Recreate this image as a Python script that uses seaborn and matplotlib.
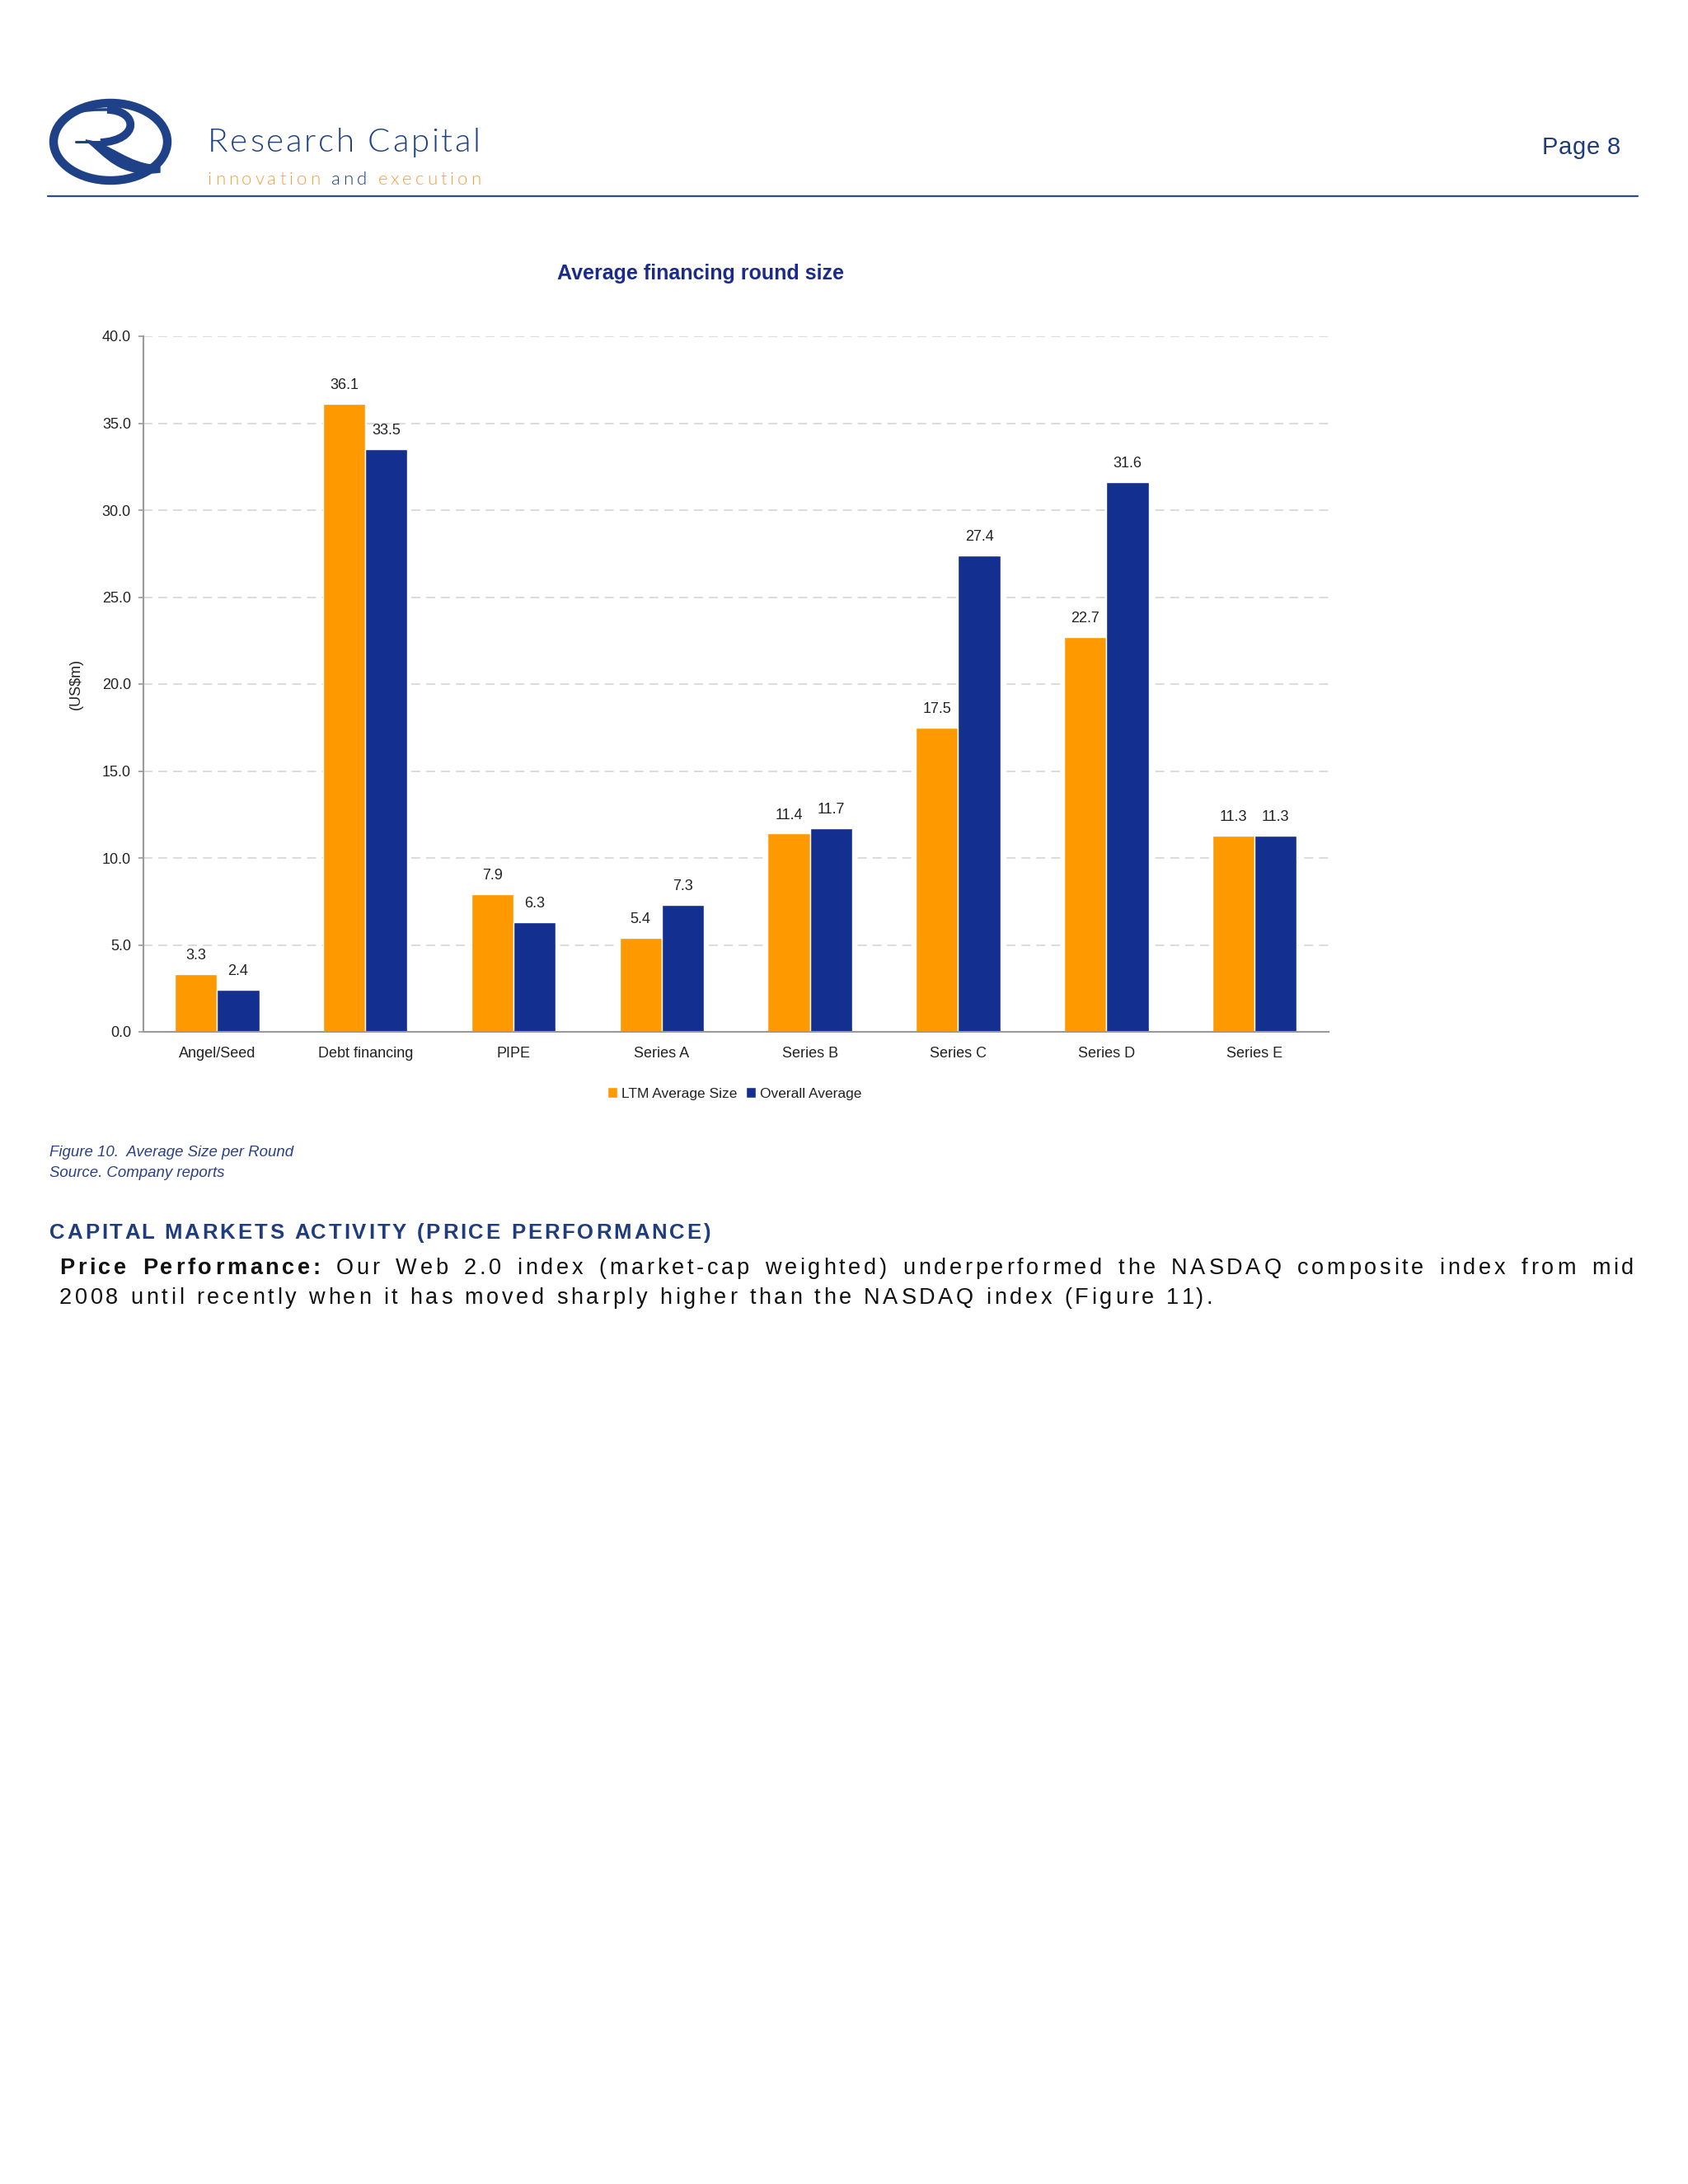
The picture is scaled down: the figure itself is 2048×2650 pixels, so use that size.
import numpy as np
import pandas as pd
import matplotlib
matplotlib.use("Agg")
import matplotlib.pyplot as plt
import seaborn as sns
from matplotlib.patches import Ellipse, Patch, PathPatch
from matplotlib.path import Path
from matplotlib.ticker import FormatStrFormatter

# ===================== data =====================
rounds = ["Angel/Seed", "Debt financing", "PIPE", "Series A", "Series B",
          "Series C", "Series D", "Series E"]
ltm_avg = [3.3, 36.1, 7.9, 5.4, 11.4, 17.5, 22.7, 11.3]
overall_avg = [2.4, 33.5, 6.3, 7.3, 11.7, 27.4, 31.6, 11.3]
series_names = ["LTM Average Size", "Overall Average"]
y_ticks = [0, 5, 10, 15, 20, 25, 30, 35, 40]

df = pd.DataFrame({
    "round": rounds * 2,
    "value": ltm_avg + overall_avg,
    "series": [series_names[0]] * len(rounds) + [series_names[1]] * len(rounds),
})

# ===================== style =====================
sns.set_style("white")
plt.rcParams["font.family"] = ["Liberation Sans", "DejaVu Sans"]

ORANGE = "#FF9900"
BLUE = "#132F90"
NAVY = "#1B2B8B"
HEAD = "#1F3C7E"
LOGO = "#1E4187"

W, H = 2048, 2650
fig = plt.figure(figsize=(W / 100, H / 100), dpi=100)
fig.patch.set_facecolor("white")

# page overlay in pixel coordinates (y from top)
bg = fig.add_axes([0, 0, 1, 1], zorder=-1)
bg.set_xlim(0, W)
bg.set_ylim(H, 0)
bg.axis("off")

renderer = fig.canvas.get_renderer()


def measure(txt, kw):
    t = bg.text(0, 0, txt, **kw)
    w = t.get_window_extent(renderer).width
    t.remove()
    return w


def spaced(x, y, segments, track=None, width=None, justify=False):
    # draw text char by char with letter spacing (baseline at y)
    chars = []
    for txt, kw in segments:
        bar = measure("|", kw)
        prev = 0.0
        for i in range(len(txt)):
            cur = measure(txt[:i + 1] + "|", kw) - bar
            chars.append((txt[i], kw, cur - prev))
            prev = cur
    n = len(chars)
    natural = sum(c[2] for c in chars)
    nsp = sum(1 for c in chars if c[0] == " ")
    extra = 0.0
    if track is None:
        track = (width - natural) / (n - 1) if width else 0.0
    if justify and width:
        extra = (width - natural - track * (n - 1)) / max(nsp, 1)
    cx = x
    for ch, kw, adv in chars:
        if ch != " ":
            bg.text(cx, y, ch, ha="left", va="baseline", **kw)
        cx += adv + track + (extra if ch == " " else 0)
    return track


# ===================== header / logo =====================
bg.add_patch(Ellipse((134, 172), 138, 94, fill=False, ec=LOGO, lw=7.5))
# stylised R
top = Path([(80, 142), (95, 132), (120, 133), (134, 133)],
           [Path.MOVETO, Path.CURVE4, Path.CURVE4, Path.CURVE4])
bg.add_patch(PathPatch(top, fill=False, ec=LOGO, lw=2.5))
bowl = Path([(130, 133), (168, 134), (170, 170), (122, 173)],
            [Path.MOVETO, Path.CURVE4, Path.CURVE4, Path.CURVE4])
bg.add_patch(PathPatch(bowl, fill=False, ec=LOGO, lw=7))
bg.plot([92, 128], [172, 172], color=LOGO, lw=2.2)
leg = Path([(104, 170), (136, 174), (154, 200), (194, 201),
            (194, 209), (146, 216), (128, 190), (104, 170)],
           [Path.MOVETO, Path.CURVE4, Path.CURVE4, Path.CURVE4,
            Path.LINETO, Path.CURVE4, Path.CURVE4, Path.CURVE4])
bg.add_patch(PathPatch(leg, fc=LOGO, ec=LOGO, lw=1))

spaced(252, 184, [("Research Capital", dict(fontsize=29, family="Lato",
                                            fontweight=300, color=LOGO))],
       width=331)
orange_kw = dict(fontsize=16, family="Lato", fontweight=300, color="#F0A040")
blue_kw = dict(fontsize=16, family="Lato", fontweight=300, color=LOGO)
spaced(252, 224, [("innovation ", orange_kw), ("and ", blue_kw),
                  ("execution", orange_kw)], width=331)
spaced(1871, 187, [("Page 8", dict(fontsize=21, color=HEAD))], width=95)
bg.plot([58, 1987], [238, 238], color="#2E4A87", lw=1.6)

# ===================== chart =====================
ax = fig.add_axes([173.5 / W, 1 - 1252 / H, (1612 - 173.5) / W, (1252 - 408) / H])
sns.barplot(data=df, x="round", y="value", hue="series",
            palette=[ORANGE, BLUE], width=0.57, saturation=1, ax=ax)
ax.legend_.remove()

for cont in ax.containers:
    ax.bar_label(cont, fmt="%.1f", padding=10, fontsize=13, color="#222222")

ax.set_ylim(0, 40)
ax.set_xlim(-0.5, len(rounds) - 0.5)
ax.set_yticks(y_ticks)
ax.yaxis.set_major_formatter(FormatStrFormatter("%.1f"))
ax.set_xticks(np.arange(-0.5, len(rounds), 1), minor=True)
ax.tick_params(axis="x", which="major", length=0, pad=13, labelsize=13, colors="#222222")
ax.tick_params(axis="x", which="minor", length=5, width=1.2, color="#9a9a9a")
ax.tick_params(axis="y", length=4, width=1.2, pad=6.5, labelsize=13,
               color="#9a9a9a", labelcolor="#222222", left=True)
ax.set_xlabel("")
ax.set_ylabel("(US$m)", fontsize=13, color="#222222")
ax.yaxis.set_label_coords(-0.0504, 0.5)

ax.yaxis.grid(True, linestyle=(0, (6, 4)), color="#d9d9d9", lw=1.3)
ax.set_axisbelow(True)
for s in ["top", "right"]:
    ax.spines[s].set_visible(False)
for s in ["left", "bottom"]:
    ax.spines[s].set_color("#9a9a9a")
    ax.spines[s].set_linewidth(1.5)

bg.text(850, 339, "Average financing round size", ha="center", va="baseline",
        fontsize=18, fontweight="bold", color=NAVY)

handles = [Patch(facecolor=ORANGE), Patch(facecolor=BLUE)]
fig.legend(handles, series_names, loc="center", bbox_to_anchor=(891 / W, 1 - 1327 / H),
           ncol=2, frameon=False, fontsize=12.5, handlelength=0.7, handleheight=0.7,
           handletextpad=0.3, columnspacing=0.6, labelcolor="#222222")

# ===================== captions & body text =====================
cap_kw = dict(fontsize=13.4, style="italic", color="#2B3F8A")
bg.text(60, 1403, "Figure 10.  Average Size per Round", ha="left", va="baseline", **cap_kw)
bg.text(60, 1428, "Source. Company reports", ha="left", va="baseline", **cap_kw)

spaced(60, 1503, [("CAPITAL MARKETS ACTIVITY (PRICE PERFORMANCE)",
                   dict(fontsize=18.5, fontweight="bold", color=HEAD))], width=802)

body_kw = dict(fontsize=19.5, color="#111111")
bold_kw = dict(fontsize=19.5, fontweight="bold", color="#111111")
tr = spaced(72, 1582, [("2008 until recently when it has moved sharply higher than the "
                        "NASDAQ index (Figure 11).", body_kw)], width=1399)
spaced(72, 1546, [("Price Performance:", bold_kw),
                  (" Our Web 2.0 index (market-cap weighted) underperformed the NASDAQ "
                   "composite index from mid", body_kw)],
       track=tr, width=1910, justify=True)

fig.savefig("out.png", dpi=100, facecolor="white")
